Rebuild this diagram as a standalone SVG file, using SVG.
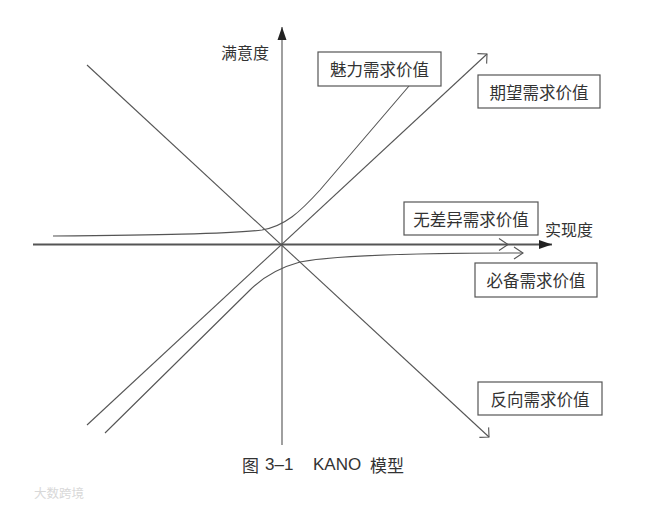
<svg xmlns="http://www.w3.org/2000/svg" width="645" height="506" viewBox="0 0 645 506">
<style>
.lbl{font-family:"Noto Sans CJK SC","Noto Sans",sans-serif;font-size:16.5px;fill:#333;text-anchor:middle;dominant-baseline:central}
.ax{font-family:"Noto Sans CJK SC","Noto Sans",sans-serif;font-size:16px;fill:#333;dominant-baseline:central}
.box{fill:#fff;stroke:#555;stroke-width:1.2}
.ln{fill:none;stroke:#555;stroke-width:1.1}
.cap{font-family:"Liberation Sans","Noto Sans CJK SC",sans-serif;font-size:17px;fill:#333;dominant-baseline:central}
</style>
<defs>
<marker id="chev45" markerUnits="userSpaceOnUse" markerWidth="16" markerHeight="16" refX="0" refY="0" viewBox="-10 -8 12 16" orient="auto" overflow="visible">
<path d="M-6.8,-6.8 L0,0 L-6.8,6.8" fill="none" stroke="#555" stroke-width="1.1"/>
</marker>
<marker id="chevH" markerUnits="userSpaceOnUse" markerWidth="16" markerHeight="16" refX="0" refY="0" viewBox="-10 -8 12 16" orient="auto" overflow="visible">
<path d="M-9,-6 L0,0 L-9,6" fill="none" stroke="#555" stroke-width="1.1"/>
</marker>
<marker id="tri" markerUnits="userSpaceOnUse" markerWidth="16" markerHeight="16" refX="0" refY="0" viewBox="-14 -6 16 12" orient="auto" overflow="visible">
<path d="M-13,-4.5 L0,0 L-13,4.5 Z" fill="#222"/>
</marker>
</defs>
<rect width="645" height="506" fill="#fff"/>
<g id="axes">
<line x1="282" y1="445" x2="282" y2="27" stroke="#777" stroke-width="1.4" marker-end="url(#tri)"/>
<line x1="33" y1="244.5" x2="552" y2="244.5" stroke="#555" stroke-width="2" marker-end="url(#tri)"/>
<text class="ax" x="221" y="52">满意度</text>
<text class="ax" x="545" y="229">实现度</text>
</g>
<g id="connectors">
<path class="ln" d="M87,65 L489,437" marker-end="url(#chev45)"/>
<path class="ln" d="M87,425 L487,54" marker-end="url(#chev45)"/>
<path class="ln" d="M282,244.5 L508,244.5" marker-end="url(#chevH)"/>
<path class="ln" d="M53,236 C150,235 230,234 262,230 C285,226 300,212 320,190 L409,86"/>
<path class="ln" d="M105,433 L250,290 C262,278 278,268 300,262 C330,256 420,253 523,253" marker-end="url(#chevH)"/>
</g>
<g id="node-meili">
<rect class="box" x="318" y="52" width="123" height="34"/>
<text class="lbl" x="379.5" y="69">魅力需求价值</text>
</g>
<g id="node-qiwang">
<rect class="box" x="478" y="75" width="122" height="33"/>
<text class="lbl" x="539" y="91.5">期望需求价值</text>
</g>
<g id="node-wuchayi">
<rect class="box" x="404" y="202" width="134" height="33"/>
<text class="lbl" x="471" y="218.5">无差异需求价值</text>
</g>
<g id="node-bibei">
<rect class="box" x="475" y="263" width="122" height="34"/>
<text class="lbl" x="536" y="280">必备需求价值</text>
</g>
<g id="node-fanxiang">
<rect class="box" x="478" y="382" width="124" height="33"/>
<text class="lbl" x="540" y="398.5">反向需求价值</text>
</g>
<g id="caption">
<text class="cap" y="464"><tspan x="242" font-family="Noto Sans CJK SC, sans-serif">图</tspan><tspan x="265">3–1</tspan><tspan x="313">KANO</tspan><tspan x="370" font-family="Noto Sans CJK SC, sans-serif">模型</tspan></text>
</g>
<g id="watermark">
<text x="34" y="492" font-family="Noto Sans CJK SC, sans-serif" font-size="12.5" fill="#d8d8d8" dominant-baseline="central">大数跨境</text>
</g>
</svg>
